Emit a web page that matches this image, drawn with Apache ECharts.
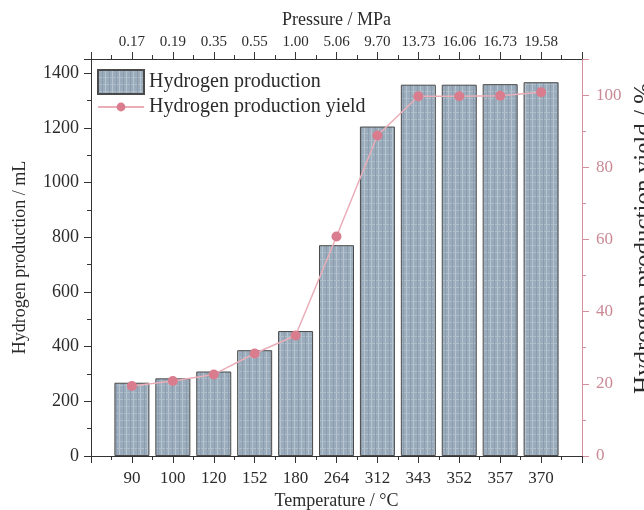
<!DOCTYPE html>
<html>
<head>
<meta charset="utf-8">
<script src="https://cdn.jsdelivr.net/npm/echarts@6/dist/echarts.min.js"></script>
<style>
html,body{margin:0;padding:0;background:#fff;}
#chart{width:644px;height:510px;}
</style>
</head>
<body>
<div id="chart"></div>
<script>
// ---- data ----
const temperatures = ['90','100','120','152','180','264','312','343','352','357','370'];
const pressures = ['0.17','0.19','0.35','0.55','1.00','5.06','9.70','13.73','16.06','16.73','19.58'];
const hydrogenProduction = [268, 284, 309, 387, 457, 771, 1205, 1358, 1358, 1360, 1367];
const hydrogenYield = [19.4, 20.8, 22.6, 28.4, 33.4, 60.8, 88.8, 99.7, 99.7, 99.8, 100.8];
const leftTicks = [0, 200, 400, 600, 800, 1000, 1200, 1400];
const rightTicks = [0, 20, 40, 60, 80, 100];

// bar grid pattern
const pc = document.createElement('canvas');
pc.width = 7; pc.height = 7;
const g = pc.getContext('2d');
g.fillStyle = '#9aabbb'; g.fillRect(0,0,7,7);
g.fillStyle = '#b6c4d0'; g.fillRect(0,0,1,7);
g.fillStyle = '#b0bec9'; g.fillRect(0,0,7,1);
g.fillStyle = '#8c9daf'; g.fillRect(4,0,1,7);
const barPattern = {image: pc, repeat: 'repeat'};

const FONT = 'Liberation Serif';
const TXT = '#2b2b2b';
const PINK = '#d58f9c';

const barData = hydrogenProduction.map((v,i)=>[i+1, v]);
const lineData = hydrogenYield.map((v,i)=>[i+1, v]);

const chart = echarts.init(document.getElementById('chart'), null, {renderer:'canvas'});
chart.setOption({
  animation: false,
  backgroundColor: '#fff',
  grid: {left: 91, right: 62, top: 59, bottom: 54, containLabel: false, outerBoundsMode: 'none'},
  legend: [{
    orient: 'vertical', left: 97, top: 69, padding: 0,
    itemWidth: 46, itemHeight: 24, itemGap: 0,
    textStyle: {fontFamily: FONT, fontSize: 20, color: TXT},
    data: [{name: 'Hydrogen production', icon: 'rect'}]
  }, {
    orient: 'vertical', left: 97, top: 97, padding: 0,
    itemWidth: 46, itemHeight: 11, itemGap: 0,
    textStyle: {fontFamily: FONT, fontSize: 20, color: TXT},
    data: [{name: 'Hydrogen production yield'}]
  }],
  xAxis: [{
    type: 'value', position: 'bottom', min: 0, max: 12, interval: 1,
    name: 'Temperature / \u00B0C', nameLocation: 'middle', nameGap: 36,
    nameTextStyle: {fontFamily: FONT, fontSize: 18, color: TXT},
    axisLine: {show: true, onZero: false, lineStyle: {color: '#333', width: 1}},
    axisTick: {show: true, length: 7, lineStyle: {color: '#333'}},
    minorTick: {show: true, splitNumber: 2, length: 4, lineStyle: {color: '#333'}},
    splitLine: {show: false},
    axisLabel: {fontFamily: FONT, fontSize: 17, color: TXT, margin: 14,
      formatter: v => (v >= 1 && v <= temperatures.length) ? temperatures[v-1] : ''}
  }, {
    type: 'value', position: 'top', min: 0, max: 12, interval: 1,
    name: 'Pressure / MPa', nameLocation: 'middle', nameGap: 30,
    nameTextStyle: {fontFamily: FONT, fontSize: 18, color: TXT},
    axisLine: {show: true, onZero: false, lineStyle: {color: '#333', width: 1}},
    axisTick: {show: true, length: 7, lineStyle: {color: '#333'}},
    minorTick: {show: true, splitNumber: 2, length: 4, lineStyle: {color: '#333'}},
    splitLine: {show: false},
    axisLabel: {fontFamily: FONT, fontSize: 15, color: TXT, margin: 9,
      formatter: v => (v >= 1 && v <= pressures.length) ? pressures[v-1] : ''}
  }],
  yAxis: [{
    type: 'value', position: 'left', min: 0, max: 1452, interval: 200,
    name: 'Hydrogen production / mL', nameLocation: 'middle', nameGap: 62, nameRotate: 90,
    nameTextStyle: {fontFamily: FONT, fontSize: 18, color: TXT},
    axisLine: {show: true, onZero: false, lineStyle: {color: '#333', width: 1}},
    axisTick: {show: true, length: 7, lineStyle: {color: '#333'}},
    minorTick: {show: true, splitNumber: 2, length: 4, lineStyle: {color: '#333'}},
    splitLine: {show: false},
    axisLabel: {fontFamily: FONT, fontSize: 18, color: TXT, margin: 12,
      formatter: v => leftTicks.includes(v) ? String(v) : ''}
  }, {
    type: 'value', position: 'right', min: 0, max: 110, interval: 20,
    name: 'Hydrogen production yield / %', nameLocation: 'middle', nameGap: 43, nameRotate: 90,
    nameTextStyle: {fontFamily: FONT, fontSize: 25, color: TXT, padding: [0,0,0,38]},
    axisLine: {show: true, onZero: false, lineStyle: {color: PINK, width: 1}},
    axisTick: {show: true, length: 7, lineStyle: {color: PINK}},
    minorTick: {show: true, splitNumber: 2, length: 4, lineStyle: {color: PINK}},
    splitLine: {show: false},
    axisLabel: {fontFamily: FONT, fontSize: 17, color: '#c98a95', margin: 14,
      formatter: v => rightTicks.includes(v) ? String(v) : ''}
  }],
  series: [{
    name: 'Hydrogen production', type: 'bar', xAxisIndex: 0, yAxisIndex: 0,
    barWidth: 35, data: barData,
    itemStyle: {color: barPattern, borderColor: '#4a4a4a', borderWidth: 1}
  }, {
    name: 'Hydrogen production yield', type: 'line', xAxisIndex: 0, yAxisIndex: 1,
    data: lineData, symbol: 'circle', symbolSize: 10,
    lineStyle: {color: '#e9aeb8', width: 1.5},
    itemStyle: {color: '#d97c8e'}
  }]
});
</script>
</body>
</html>
